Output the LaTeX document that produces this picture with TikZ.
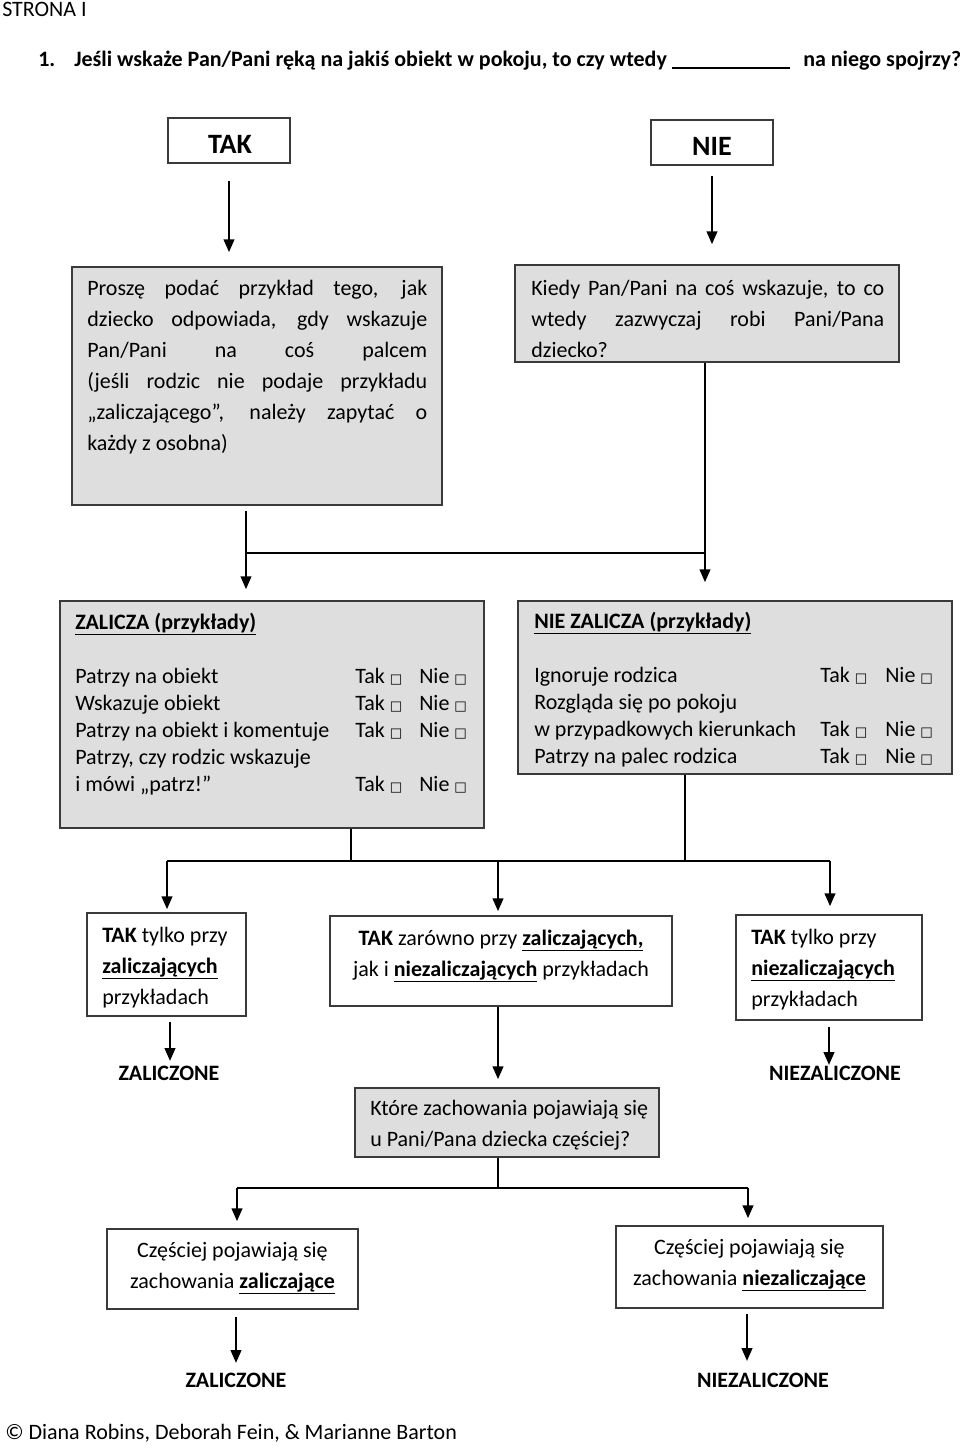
\documentclass[tikz,border=0pt]{standalone}
\usepackage{fontspec}
\setmainfont{Carlito}
\newfontfamily\symf{DejaVu Sans}[Scale=0.6]
\usetikzlibrary{arrows.meta,fit,calc}
\definecolor{gfill}{HTML}{DEDEDE}
\definecolor{bord}{HTML}{3A3A3A}
\newcommand\cb{{\symf □}}
\newcommand\bu[1]{\textbf{\underline{#1}}}
\newcommand\jl[2]{\makebox[#1][s]{#2}}
\tikzset{
  boxw/.style={draw=bord, line width=1.3pt, inner sep=0pt, fill=white},
  boxg/.style={boxw, fill=gfill},
  txt/.style={inner sep=0pt, anchor=base west, font=\fontsize{16.5pt}{23.25pt}\selectfont},
  txtc/.style={txt, anchor=base},
  tabtxt/.style={inner sep=0pt, anchor=base west, font=\fontsize{16.5pt}{20.25pt}\selectfont},
  big/.style={inner sep=0pt, anchor=base, font=\fontsize{21pt}{25pt}\selectfont\bfseries},
  bold/.style={font=\fontsize{16.5pt}{20pt}\selectfont\bfseries},
  conn/.style={line width=1.2pt, black},
  arr/.style={conn, -{Triangle[width=8pt,length=9.5pt]}},
}
\begin{document}
\begin{tikzpicture}[x=0.75pt,y=-0.75pt]
\useasboundingbox (0,0) rectangle (960,1446);

% header
\node[txt] (stro) at (2,16) {STRONA I};
\node[txt, bold] (q1num) at (38,66) {1.};
\node[txt, bold] (q1) at (74,66) {Jeśli wskaże Pan/Pani ręką na jakiś obiekt w pokoju, to czy wtedy};
\coordinate (bl1) at (672,68);
\coordinate (bl2) at (790,68);
\draw[line width=1pt] (bl1) -- (bl2);
\node[txt, bold] (q1end) at (803,66) {na niego spojrzy?};

% TAK / NIE
\node[boxw, fit={(168,118) (290,163)}] (tak) {};
\node[big] (takt) at (230,153) {TAK};
\node[boxw, fit={(651,120) (773,165)}] (nie) {};
\node[big] (niet) at (712,155) {NIE};

% first level boxes
\node[boxg, fit={(72,267) (442,505)}] (prosze) {};
\node[txt] (proszet) at (87,295) {\begin{tabular}[t]{@{}l@{}}
\jl{255pt}{Proszę podać przykład tego, jak}\\
\jl{255pt}{dziecko odpowiada, gdy wskazuje}\\
\jl{255pt}{Pan/Pani na coś palcem}\\
\jl{255pt}{(jeśli rodzic nie podaje przykładu}\\
\jl{255pt}{„zaliczającego”, należy zapytać o}\\
każdy z osobna)\end{tabular}};

\node[boxg, fit={(515,265) (899,362)}] (kiedy) {};
\begin{scope}
\clip (515,265) rectangle (899,356);
\node[txt] (kiedyt) at (531,295.5) {\begin{tabular}[t]{@{}l@{}}
\jl{264.75pt}{Kiedy Pan/Pani na coś wskazuje, to co}\\
\jl{264.75pt}{wtedy zazwyczaj robi Pani/Pana}\\
dziecko?\end{tabular}};
\end{scope}

% ZALICZA boxes
\node[boxg, fit={(60,601) (484,828)}] (zal) {};
\node[tabtxt] (zalt) at (75,629) {\begin{tabular}[t]{@{}p{210pt}@{}p{48pt}@{}l@{}}
\bu{ZALICZA (przykłady)} & & \\
 & & \\
Patrzy na obiekt & Tak \cb & Nie \cb\\
Wskazuje obiekt & Tak \cb & Nie \cb\\
Patrzy na obiekt i komentuje & Tak \cb & Nie \cb\\
Patrzy, czy rodzic wskazuje & & \\
i mówi „patrz!” & Tak \cb & Nie \cb
\end{tabular}};

\node[boxg, fit={(518,601) (952,774)}] (nzal) {};
\node[tabtxt] (nzalt) at (534,628) {\begin{tabular}[t]{@{}p{214.5pt}@{}p{48.75pt}@{}l@{}}
\bu{NIE ZALICZA (przykłady)} & & \\
 & & \\
Ignoruje rodzica & Tak \cb & Nie \cb\\
Rozgląda się po pokoju & & \\
w przypadkowych kierunkach & Tak \cb & Nie \cb\\
Patrzy na palec rodzica & Tak \cb & Nie \cb
\end{tabular}};

% connectors level 1
\draw[arr, shorten <=12.75pt, shorten >=10.5pt] (tak.south) -- (tak.south |- prosze.north);
\draw[arr, shorten <=7.5pt, shorten >=15pt] (nie.south) -- (nie.south |- kiedy.north);
\coordinate (j1) at (246,553);
\coordinate (j2) at (705,553);
\draw[conn, shorten <=3.75pt] (j1 |- prosze.south) -- (j1) -- (j2);
\draw[arr, shorten >=8.25pt] (j1) -- (j1 |- zal.north);
\draw[arr, shorten >=13.5pt] (j2 |- kiedy.south) -- (j2 |- nzal.north);

% result boxes
\node[boxw, fit={(87,913) (246,1016)}] (ta) {};
\node[txt] (tat) at (102,942) {\begin{tabular}[t]{@{}l@{}}
\textbf{TAK} tylko przy\\ \bu{zaliczających}\\ przykładach\end{tabular}};
\node[boxw, fit={(330,916) (672,1006)}] (tb) {};
\node[txtc] (tbt) at (501,945) {\begin{tabular}[t]{@{}c@{}}
\textbf{TAK} zarówno przy \bu{zaliczających,}\\ jak i \bu{niezaliczających} przykładach\end{tabular}};
\node[boxw, fit={(736,915) (922,1020)}] (tc) {};
\node[txt] (tct) at (751,944) {\begin{tabular}[t]{@{}l@{}}
\textbf{TAK} tylko przy\\ \bu{niezaliczających}\\ przykładach\end{tabular}};

% level 2 connectors
\coordinate (k1) at (167,861);
\coordinate (k2) at (830,861);
\coordinate (k3) at (351,861);
\coordinate (k4) at (685,861);
\coordinate (k5) at (498,861);
\draw[conn] (k3 |- zal.south) -- (k3);
\draw[conn] (k4 |- nzal.south) -- (k4);
\draw[conn] (k1) -- (k2);
\draw[arr, shorten >=2.25pt] (k1) -- (k1 |- ta.north);
\draw[arr, shorten >=3pt] (k5) -- (k5 |- tb.north);
\draw[arr, shorten >=6pt] (k2) -- (k2 |- tc.north);

% ZALICZONE row
\node[txtc, bold] (zone1) at (169,1080) {ZALICZONE};
\node[txtc, bold] (nzone1) at (835,1080) {NIEZALICZONE};
\draw[arr] ($(ta.south)+(3.5,5)$) -- ++(0,39);
\draw[arr] ($(tc.south)+(0,6)$) -- ++(0,38);

\node[boxg, fit={(355,1088) (659,1157)}] (ktore) {};
\node[txt] (ktoret) at (370,1115) {\begin{tabular}[t]{@{}l@{}}
Które zachowania pojawiają się\\ u Pani/Pana dziecka częściej?\end{tabular}};
\draw[arr, shorten >=6pt] (k5 |- tb.south) -- (k5 |- ktore.north);

\node[boxw, fit={(107,1229) (358,1309)}] (ce) {};
\node[txtc] (cet) at (232.5,1257) {\begin{tabular}[t]{@{}c@{}}
Częściej pojawiają się\\ zachowania \bu{zaliczające}\end{tabular}};
\node[boxw, fit={(616,1226) (883,1308)}] (cf) {};
\node[txtc] (cft) at (749.5,1254) {\begin{tabular}[t]{@{}c@{}}
Częściej pojawiają się\\ zachowania \bu{niezaliczające}\end{tabular}};

\coordinate (m1) at (237,1188);
\coordinate (m2) at (748,1188);
\coordinate (m3) at (498,1188);
\draw[conn] (m3 |- ktore.south) -- (m3);
\draw[conn] (m1) -- (m2);
\draw[arr, shorten >=5.25pt] (m1) -- (m1 |- ce.north);
\draw[arr, shorten >=5.25pt] (m2) -- (m2 |- cf.north);

\draw[arr] ($(ce.south)+(3.5,7)$) -- ++(0,46);
\draw[arr] ($(cf.south)+(-2.5,5)$) -- ++(0,47);
\node[txtc, bold] (zone2) at (236,1387) {ZALICZONE};
\node[txtc, bold] (nzone2) at (763,1387) {NIEZALICZONE};

\node[txt] (copy) at (5,1439) {© Diana Robins, Deborah Fein, \& Marianne Barton};
\end{tikzpicture}
\end{document}
